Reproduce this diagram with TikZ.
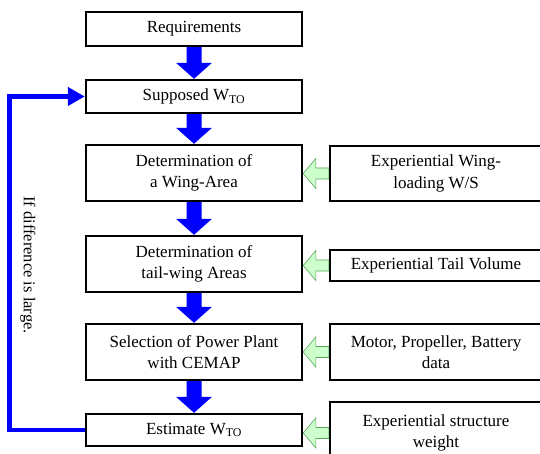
\documentclass[tikz,border=0pt]{standalone}
\usepackage{fontspec}
\setmainfont{Liberation Serif}
\usetikzlibrary{calc,arrows.meta}

% blue block arrow between two boxes
\newcommand{\blockdown}[2]{%
  \fill[blue] ($(#1.south)+(-7.5,0)$) -- ($(#2.north)+(-7.5,-16)$) -- ($(#2.north)+(-18,-16)$)
    -- (#2.north) -- ($(#2.north)+(18,-16)$) -- ($(#2.north)+(7.5,-16)$) -- ($(#1.south)+(7.5,0)$) -- cycle;}
% light green input arrow
\newcommand{\sidearrow}[2]{%
  \draw[sidetip] ($(#1.west)+(0,-5.5)$) -- ++(-13,0) -- ++(0,-9.5) -- (#2.east |- #1.west)
    -- ($(#1.west)+(-13,15)$) -- ++(0,-9.5) -- ($(#1.west)+(0,5.5)$) -- cycle;}

\begin{document}
\begin{tikzpicture}[x=1pt,y=-1pt,
    stepbox/.style={draw,line width=2.4pt,minimum width=216pt,inner sep=0pt,align=center,
      font=\fontsize{17}{21.5}\selectfont},
    inbox/.style={stepbox,minimum width=212pt},
    sidetip/.style={fill=green!20,draw=green!30!gray,line width=0.6pt,line join=miter},
    feedback/.style={draw=blue,line width=4.5pt,-{Triangle[width=18pt,length=17pt]}}]
    \useasboundingbox (0,0) rectangle (540,454);
    % main chain
    \node[stepbox,minimum height=34pt] (req) at (194,29) {Requirements};
    \node[stepbox,minimum height=33pt] (sup) at (194,96.5) {Supposed W\textsubscript{TO}};
    \node[stepbox,minimum height=56pt] (wing) at (194,173) {Determination of\\a Wing-Area};
    \node[stepbox,minimum height=56pt] (tail) at (194,264) {Determination of\\tail-wing Areas};
    \node[stepbox,minimum height=56pt] (power) at (194,352) {Selection of Power Plant\\with CEMAP};
    \node[stepbox,minimum height=32pt] (est) at (194,430) {Estimate W\textsubscript{TO}};
    % inputs
    \node[inbox,minimum height=55pt] (ws) at (436,173.5) {Experiential Wing-\\loading W/S};
    \node[inbox,minimum height=31pt] (vol) at (436,265.5) {Experiential Tail Volume};
    \node[inbox,minimum height=56pt] (data) at (436,352) {Motor, Propeller, Battery\\data};
    \node[inbox,minimum height=62pt] (struct) at (436,433) {Experiential structure\\weight};
    \foreach \a/\b in {req/sup,sup/wing,wing/tail,tail/power,power/est}
        \blockdown{\a}{\b};
    \sidearrow{ws}{wing}
    \sidearrow{vol}{tail}
    \sidearrow{data}{power}
    \sidearrow{struct}{est}
    % loop back
    \draw[feedback] (est.west) -- ++(-75.5,0) |- (sup.west);
    \node[rotate=-90,font=\fontsize{16.5}{20}\selectfont] (diff) at (28,265) {If difference is large.};
\end{tikzpicture}
\end{document}
